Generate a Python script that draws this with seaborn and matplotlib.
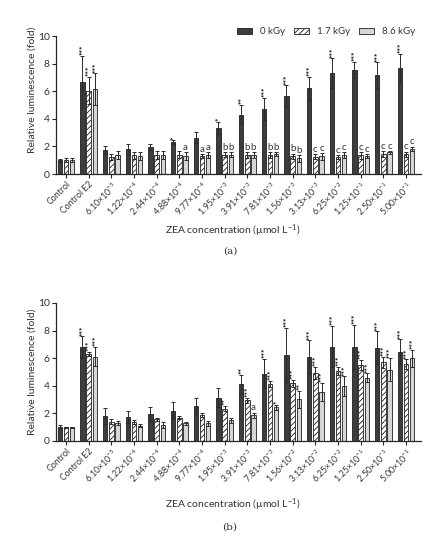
import matplotlib
matplotlib.use("Agg")
import matplotlib.pyplot as plt
from matplotlib.patches import Patch
import numpy as np
import pandas as pd
import seaborn as sns

# ---------------- data ----------------
doses = ["0 kGy", "1.7 kGy", "8.6 kGy"]

labels_a = ["Control", "Control E2", "6.10×10$^{-5}$", "1.22×10$^{-4}$", "2.44×10$^{-4}$",
            "4.88×10$^{-4}$", "9.77×10$^{-4}$", "1.95×10$^{-3}$", "3.91×10$^{-3}$",
            "7.81×10$^{-3}$", "1.56×10$^{-3}$", "3.13×10$^{-3}$", "6.25×10$^{-2}$",
            "1.25×10$^{-1}$", "2.50×10$^{-1}$", "5.00×10$^{-1}$"]
labels_b = ["Control", "Control E2", "6.10×10$^{-5}$", "1.22×10$^{-4}$", "2.44×10$^{-4}$",
            "4.88×10$^{-4}$", "9.77×10$^{-4}$", "1.95×10$^{-3}$", "3.91×10$^{-3}$",
            "7.81×10$^{-3}$", "1.56×10$^{-2}$", "3.13×10$^{-2}$", "6.25×10$^{-2}$",
            "1.25×10$^{-1}$", "2.50×10$^{-1}$", "5.00×10$^{-1}$"]

# panel (a)
a_0kGy = [1.0, 6.66, 1.72, 1.82, 1.94, 2.32, 2.64, 3.32, 4.31, 4.70, 5.64, 6.20, 7.31, 7.53, 7.14, 7.65]
a_17kGy = [1.0, 6.05, 1.23, 1.36, 1.38, 1.40, 1.31, 1.40, 1.38, 1.38, 1.28, 1.26, 1.23, 1.36, 1.45, 1.43]
a_86kGy = [1.0, 6.15, 1.40, 1.31, 1.40, 1.30, 1.36, 1.40, 1.36, 1.45, 1.14, 1.28, 1.38, 1.31, 1.57, 1.84]
a_0kGy_err = [0.1, 1.9, 0.3, 0.38, 0.22, 0.12, 0.4, 0.45, 0.68, 0.8, 0.78, 0.85, 1.07, 0.6, 0.95, 1.05]
a_17kGy_err = [0.15, 1.0, 0.25, 0.27, 0.3, 0.25, 0.15, 0.2, 0.2, 0.2, 0.2, 0.2, 0.15, 0.25, 0.2, 0.2]
a_86kGy_err = [0.15, 1.15, 0.3, 0.3, 0.3, 0.3, 0.2, 0.2, 0.2, 0.15, 0.25, 0.25, 0.2, 0.15, 0.1, 0.15]
a_0kGy_sig = ["", "***", "", "", "", "*", "", "*", "**", "***", "***", "***", "***", "***", "***", "***"]
a_17kGy_sig = ["", "***", "", "", "", "", "a", "b", "b", "b", "b", "c", "c", "c", "c", "c"]
a_86kGy_sig = ["", "***", "", "", "", "a", "a", "b", "b", "b", "b", "c", "c", "c", "c", "c"]

# panel (b)
b_0kGy = [1.04, 6.82, 1.81, 1.73, 1.95, 2.19, 2.53, 3.14, 4.10, 4.89, 6.22, 6.10, 6.84, 6.84, 6.75, 6.46]
b_17kGy = [1.0, 6.31, 1.40, 1.35, 1.57, 1.69, 1.88, 2.35, 2.94, 4.14, 4.19, 4.92, 5.06, 5.52, 5.71, 5.57]
b_86kGy = [1.0, 6.12, 1.28, 1.11, 1.16, 1.28, 1.28, 1.49, 1.86, 2.43, 3.01, 3.54, 3.98, 4.60, 5.18, 5.98]
b_0kGy_err = [0.1, 0.77, 0.58, 0.43, 0.5, 0.6, 0.55, 0.7, 0.67, 1.04, 1.97, 1.2, 1.5, 1.6, 1.2, 0.9]
b_17kGy_err = [0.05, 0.15, 0.2, 0.15, 0.12, 0.1, 0.15, 0.2, 0.2, 0.2, 0.25, 0.45, 0.3, 0.35, 0.4, 0.35]
b_86kGy_err = [0.05, 0.7, 0.15, 0.1, 0.2, 0.12, 0.2, 0.15, 0.2, 0.2, 0.6, 0.65, 0.7, 0.3, 0.8, 0.65]
b_0kGy_sig = ["", "***", "", "", "", "", "", "", "**", "***", "***", "***", "***", "***", "***", "***"]
b_17kGy_sig = ["", "***", "", "", "", "", "", "**", "***", "***", "***", "***", "***", "***", "***", "***"]
b_86kGy_sig = ["", "***", "", "", "", "", "", "", "a", "*", "**", "***", "***", "***", "***", "***"]

# ---------------- style ----------------
sns.set_style("ticks")
plt.rcParams["font.family"] = ["Lato", "DejaVu Sans"]
plt.rcParams["mathtext.default"] = "regular"
plt.rcParams["hatch.linewidth"] = 0.6

colors = ["#3d3d3d", "#ffffff", "#d6d6d6"]
hatches = ["", "//////", ""]
edge = "#1f1f1f"
txt = "#333333"

W, H = 445, 550
fig = plt.figure(figsize=(W / 100, H / 100), dpi=100)
ax_a = fig.add_axes([56 / W, 1 - 174 / H, 365 / W, 138 / H])
ax_b = fig.add_axes([56 / W, 1 - 441 / H, 365 / W, 138 / H])


def draw(ax, labels, means, errs, sigs):
    df = pd.DataFrame({
        "conc": labels * 3,
        "dose": [d for d in doses for _ in labels],
        "value": means[0] + means[1] + means[2],
    })
    sns.barplot(data=df, x="conc", y="value", hue="dose", order=labels, hue_order=doses,
                palette=colors, width=0.82, gap=0.28, errorbar=None, saturation=1,
                edgecolor=edge, linewidth=0.6, legend=False, ax=ax)
    for i, cont in enumerate(ax.containers[:3]):
        xs = []
        ys = []
        for bar in cont:
            bar.set_hatch(hatches[i])
            bar.set_edgecolor(edge)
            xs.append(bar.get_x() + bar.get_width() / 2)
            ys.append(bar.get_height())
        ax.errorbar(xs, ys, yerr=errs[i], fmt="none", ecolor="#2a2a2a", elinewidth=0.7,
                    capsize=1.4, capthick=0.7, zorder=3)
        for x, y, e, s in zip(xs, ys, errs[i], sigs[i]):
            if not s:
                continue
            if "*" in s:
                ax.text(x, y + e + 0.05, s, rotation=90, fontsize=6, ha="center", va="bottom",
                        color="#1a1a1a", fontweight="bold", linespacing=0.8)
            else:
                ax.text(x, y + e + 0.02, s, fontsize=7, ha="center", va="bottom", color=txt)
    ax.set_xlim(-0.44, 15.66)
    ax.set_ylim(0, 10)
    ax.set_yticks([0, 2, 4, 6, 8, 10])
    ax.tick_params(axis="y", labelsize=7.5, length=3, width=0.8, pad=1.5, labelcolor=txt)
    ax.tick_params(axis="x", length=3, width=0.8, pad=1, labelcolor=txt)
    ax.set_xticks(range(len(labels)))
    ax.set_xticklabels(labels, rotation=45, ha="right", rotation_mode="anchor", fontsize=6.3)
    ax.set_xlabel("")
    ax.set_ylabel("")
    sns.despine(ax=ax)
    for sp in ["left", "bottom"]:
        ax.spines[sp].set_linewidth(0.9)


draw(ax_a, labels_a, [a_0kGy, a_17kGy, a_86kGy], [a_0kGy_err, a_17kGy_err, a_86kGy_err],
     [a_0kGy_sig, a_17kGy_sig, a_86kGy_sig])
draw(ax_b, labels_b, [b_0kGy, b_17kGy, b_86kGy], [b_0kGy_err, b_17kGy_err, b_86kGy_err],
     [b_0kGy_sig, b_17kGy_sig, b_86kGy_sig])

handles = [Patch(facecolor=c, edgecolor=edge, hatch=h, linewidth=0.6, label=d)
           for c, h, d in zip(colors, hatches, doses)]
leg = ax_a.legend(handles=handles, ncol=3, loc="center right", bbox_to_anchor=(0.995, 1.03),
                  frameon=False, fontsize=7, handlelength=1.6, handleheight=0.6,
                  columnspacing=0.9, handletextpad=0.8, borderaxespad=0)
for t in leg.get_texts():
    t.set_color(txt)

# axis titles and panel labels
for yc in (90, 372):
    fig.text(32 / W, 1 - yc / H, "Relative luminescence (fold)", rotation=90, fontsize=7.5,
             ha="center", va="center", color=txt)
for yc in (231, 505):
    fig.text(233 / W, 1 - yc / H, "ZEA concentration (µmol L$^{-1}$)", fontsize=7.5,
             ha="center", va="center", color=txt)
fig.text(230 / W, 1 - 251 / H, "(a)", fontsize=7.5, family="DejaVu Serif",
         ha="center", va="center", color=txt)
fig.text(230 / W, 1 - 527 / H, "(b)", fontsize=7.5, family="DejaVu Serif",
         ha="center", va="center", color=txt)

fig.savefig("out.png", dpi=100)
